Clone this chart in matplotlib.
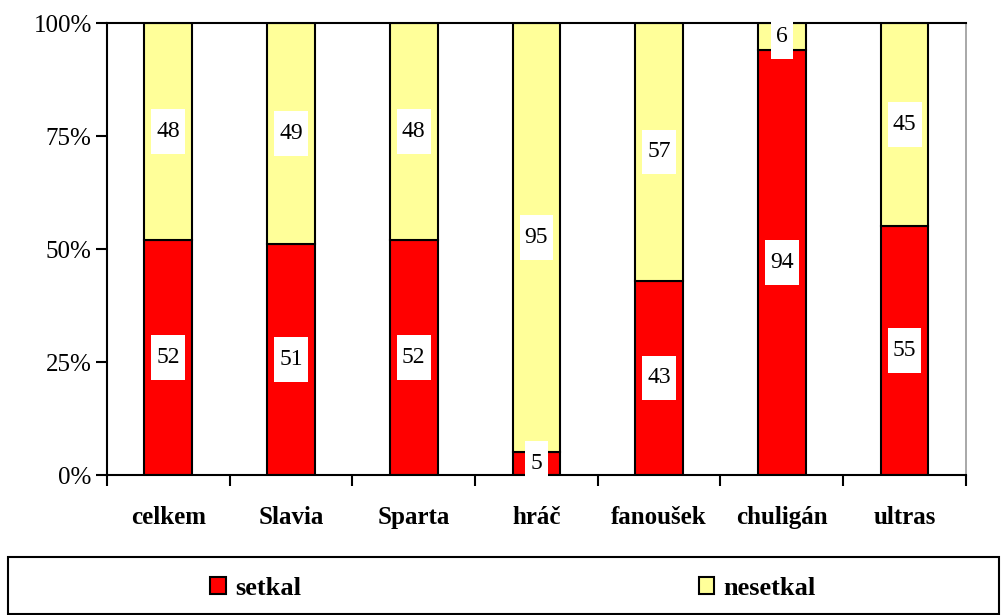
import matplotlib.pyplot as plt
import numpy as np
from matplotlib.patches import Rectangle
from matplotlib.path import Path
from matplotlib.ticker import FixedLocator, PercentFormatter

categories = ['celkem', 'Slavia', 'Sparta', 'hráč', 'fanoušek', 'chuligán', 'ultras']
setkal = [52, 51, 52, 5, 43, 94, 55]
nesetkal = [48, 49, 48, 95, 57, 6, 45]

plt.rcParams['font.family'] = ['Liberation Serif', 'DejaVu Serif']


def tall_box(x0, y0, width, height, mutation_size):
    # white label box, taller than wide padding
    px = 0.22 * mutation_size
    py = 0.5 * mutation_size
    x0, y0 = x0 - px, y0 - py
    x1, y1 = x0 + width + 2 * px, y0 + height + 2 * py
    return Path([(x0, y0), (x1, y0), (x1, y1), (x0, y1), (x0, y0)], closed=True)


fig = plt.figure(figsize=(10.03, 6.15), dpi=100)
ax = fig.add_axes([0.1067, 0.2276, 0.8563, 0.735])

x = np.arange(len(categories))
w = 0.39
b1 = ax.bar(x, setkal, width=w, color='#FF0000', edgecolor='black', linewidth=1.5, label='setkal')
b2 = ax.bar(x, nesetkal, width=w, bottom=setkal, color='#FFFF99', edgecolor='black', linewidth=1.5, label='nesetkal')

# value labels in white boxes
for i in range(len(categories)):
    ax.text(x[i], setkal[i] / 2, str(setkal[i]), ha='center', va='center', fontsize=17,
            bbox=dict(boxstyle=tall_box, fc='white', ec='none'))
    ax.text(x[i], setkal[i] + nesetkal[i] / 2, str(nesetkal[i]), ha='center', va='center', fontsize=17,
            bbox=dict(boxstyle=tall_box, fc='white', ec='none'))

ax.set_xlim(-0.5, len(categories) - 0.5)
ax.set_ylim(0, 100)
ax.yaxis.set_major_locator(FixedLocator([0, 25, 50, 75, 100]))
ax.yaxis.set_major_formatter(PercentFormatter(decimals=0))
ax.tick_params(axis='y', direction='out', length=8, width=1.5, labelsize=18, pad=3)

ax.set_xticks(x)
ax.set_xticklabels(categories, fontsize=18, fontweight='bold')
ax.set_xticks(np.arange(-0.5, len(categories)), minor=True)
ax.tick_params(axis='x', which='major', length=0, pad=22)
ax.tick_params(axis='x', which='minor', direction='out', length=8, width=1.5)

for s in ['left', 'bottom', 'top']:
    ax.spines[s].set_linewidth(1.5)
    ax.spines[s].set_color('black')
ax.spines['right'].set_color('#999999')
ax.spines['right'].set_linewidth(1.2)

# legend box across the bottom
fig.patches.append(Rectangle((0.008, 0.002), 0.988, 0.092, transform=fig.transFigure,
                             fill=False, edgecolor='black', linewidth=1.5))
fig.legend([b1], ['setkal'], loc='center', bbox_to_anchor=(0.255, 0.043), frameon=False,
           prop={'size': 19, 'weight': 'bold'}, handlelength=0.6, handleheight=0.6, handletextpad=0.35)
fig.legend([b2], ['nesetkal'], loc='center', bbox_to_anchor=(0.755, 0.043), frameon=False,
           prop={'size': 19, 'weight': 'bold'}, handlelength=0.6, handleheight=0.6, handletextpad=0.35)

fig.savefig('out.png', dpi=100)
